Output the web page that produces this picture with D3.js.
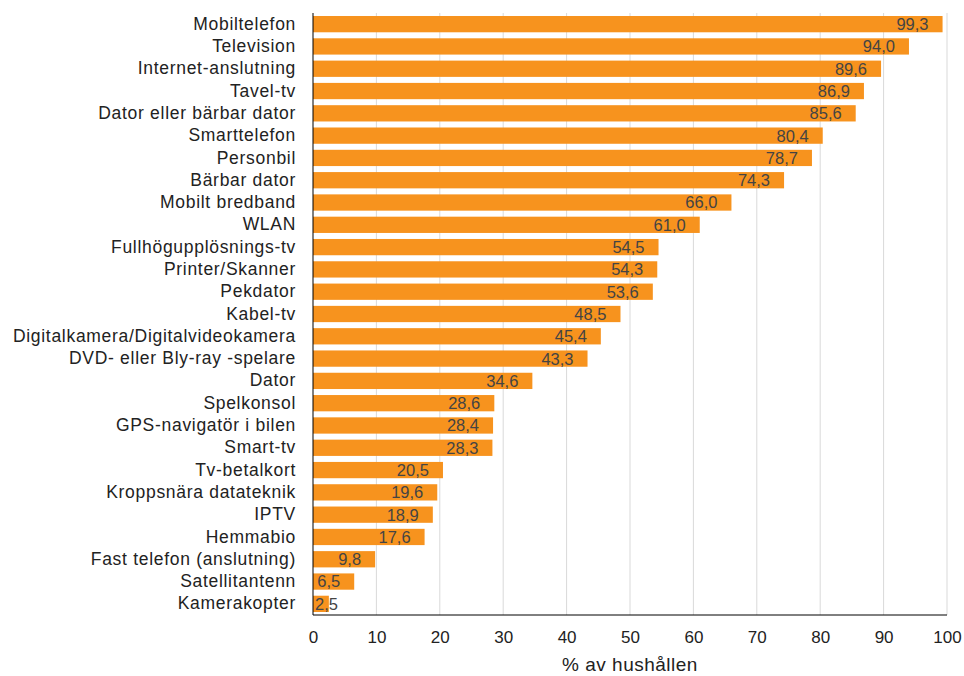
<!DOCTYPE html>
<html><head><meta charset="utf-8">
<script src="https://cdn.jsdelivr.net/npm/d3@7"></script>
<style>body{margin:0;background:#fff}svg{display:block}</style>
</head><body>
<script>
const categories = ["Mobiltelefon","Television","Internet-anslutning","Tavel-tv","Dator eller bärbar dator","Smarttelefon","Personbil","Bärbar dator","Mobilt bredband","WLAN","Fullhögupplösnings-tv","Printer/Skanner","Pekdator","Kabel-tv","Digitalkamera/Digitalvideokamera","DVD- eller Bly-ray -spelare","Dator","Spelkonsol","GPS-navigatör i bilen","Smart-tv","Tv-betalkort","Kroppsnära datateknik","IPTV","Hemmabio","Fast telefon (anslutning)","Satellitantenn","Kamerakopter"];
const values = [99.3,94.0,89.6,86.9,85.6,80.4,78.7,74.3,66.0,61.0,54.5,54.3,53.6,48.5,45.4,43.3,34.6,28.6,28.4,28.3,20.5,19.6,18.9,17.6,9.8,6.5,2.5];
const xTicks = [0,10,20,30,40,50,60,70,80,90,100];
const axisTitle = "% av hushållen";

const W=964,H=676;
const svg=d3.select("body").append("svg").attr("width",W).attr("height",H);
const font="'Liberation Sans', Arial, sans-serif";
const x=d3.scaleLinear().domain([0,100]).range([313,947]);
const y=d3.scaleBand().domain(categories).range([13,615]).paddingInner(0.27).paddingOuter(0.135);

// gridlines
svg.append("g").selectAll("line").data(xTicks.filter(d=>d>0)).join("line")
  .attr("x1",d=>x(d)).attr("x2",d=>x(d)).attr("y1",13).attr("y2",615)
  .attr("stroke","#d9d9d9").attr("stroke-width",1);

// bars
svg.append("g").selectAll("rect").data(values).join("rect")
  .attr("x",x(0)).attr("y",(d,i)=>y(categories[i]))
  .attr("width",d=>x(d)-x(0)).attr("height",y.bandwidth())
  .attr("fill","#f7931e");

// value labels
const vl=svg.append("g").selectAll("text").data(values).join("text")
  .attr("y",(d,i)=>y(categories[i])+y.bandwidth()/2)
  .attr("dy","0.36em")
  .attr("font-family",font).attr("font-size",16.5).attr("fill","#444")
  .text(d=>d.toFixed(1).replace(".",","));
vl.each(function(d){
  const w=this.getComputedTextLength();
  let end=x(d)-14;
  if(end-w<x(0)+2) end=x(0)+2+w;
  d3.select(this).attr("x",end).attr("text-anchor","end");
});

// axes
const yAxis=d3.axisLeft(y).tickSize(0).tickPadding(17);
const gy=svg.append("g").attr("transform",`translate(${x(0)},0)`).call(yAxis);
gy.select(".domain").attr("stroke","#000").attr("d",`M0,13V615`);
gy.selectAll("text").attr("font-family",font).attr("font-size",17.5).attr("letter-spacing","0.7px").attr("fill","#222");

const xAxis=d3.axisBottom(x).tickValues(xTicks).tickSize(0).tickPadding(16).tickFormat(d3.format("d"));
const gx=svg.append("g").attr("transform","translate(0,615)").call(xAxis);
gx.select(".domain").attr("stroke","#000").attr("d",`M${x(0)},0H${x(100)}`);
gx.selectAll("text").attr("font-family",font).attr("font-size",17).attr("fill","#222");

svg.append("text").attr("x",(x(0)+x(100))/2).attr("y",664).attr("dy","0.36em")
  .attr("text-anchor","middle").attr("font-family",font).attr("font-size",19).attr("letter-spacing","0.5px").attr("fill","#222")
  .text(axisTitle);
</script>
</body></html>
